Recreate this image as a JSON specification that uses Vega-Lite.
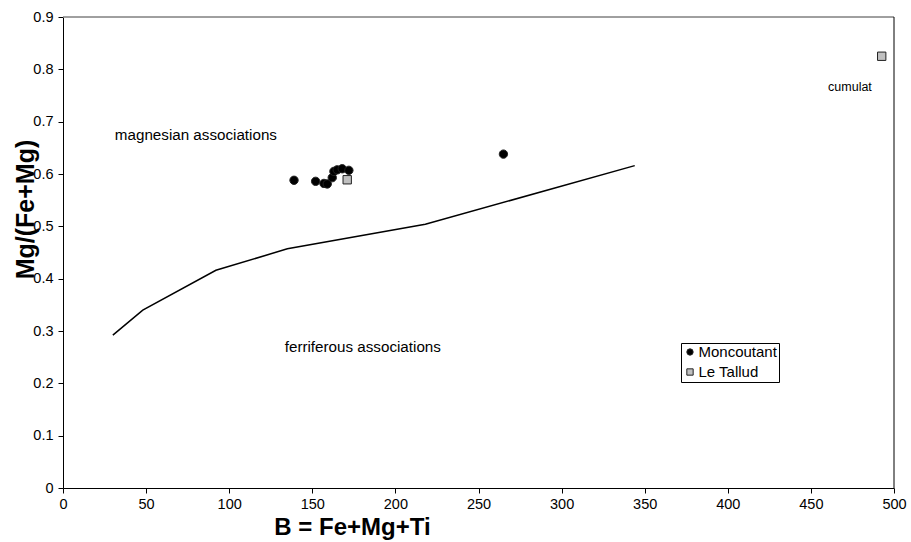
{
  "$schema": "https://vega.github.io/schema/vega-lite/v6.json",
  "width": 831,
  "height": 471,
  "autosize": {"type": "none"},
  "padding": {"left": 63, "top": 17, "right": 17, "bottom": 54},
  "background": "white",
  "config": {
    "font": "Liberation Sans",
    "view": {"stroke": null},
    "axis": {"grid": false, "labelFont": "Liberation Sans", "titleFont": "Liberation Sans", "labelColor": "black", "titleColor": "black", "domainColor": "black", "tickColor": "black"}
  },
  "datasets": {
    "pts": [
      {"x": 139, "y": 0.588, "site": "Moncoutant"},
      {"x": 152, "y": 0.586, "site": "Moncoutant"},
      {"x": 157, "y": 0.582, "site": "Moncoutant"},
      {"x": 159, "y": 0.581, "site": "Moncoutant"},
      {"x": 162, "y": 0.593, "site": "Moncoutant"},
      {"x": 163, "y": 0.605, "site": "Moncoutant"},
      {"x": 165, "y": 0.608, "site": "Moncoutant"},
      {"x": 168, "y": 0.610, "site": "Moncoutant"},
      {"x": 172, "y": 0.607, "site": "Moncoutant"},
      {"x": 265, "y": 0.638, "site": "Moncoutant"},
      {"x": 171, "y": 0.589, "site": "Le Tallud"},
      {"x": 492.6, "y": 0.825, "site": "Le Tallud"}
    ],
    "line": [
      {"x": 30, "y": 0.292},
      {"x": 48, "y": 0.34},
      {"x": 92, "y": 0.416},
      {"x": 135, "y": 0.457},
      {"x": 218, "y": 0.504},
      {"x": 344, "y": 0.616}
    ],
    "labels": [
      {"x": 31.2, "y": 0.674, "text": "magnesian associations"},
      {"x": 133.4, "y": 0.270, "text": "ferriferous associations"}
    ],
    "cumulat": [
      {"x": 473.5, "y": 0.766, "text": "cumulat"}
    ]
  },
  "layer": [
    {
      "data": {"name": "line"},
      "mark": {"type": "line", "color": "black", "strokeWidth": 1.5},
      "encoding": {
        "x": {
          "field": "x", "type": "quantitative",
          "scale": {"domain": [0, 500], "nice": false},
          "axis": {"values": [0,50,100,150,200,250,300,350,400,450,500], "title": "B = Fe+Mg+Ti", "titleFontSize": 24, "titleFontWeight": "bold", "labelFontSize": 14.5, "tickSize": 5, "labelPadding": 4, "titleX": 289, "titleY": 39, "titleBaseline": "middle", "titleAlign": "center", "labelFlush": false}
        },
        "y": {
          "field": "y", "type": "quantitative",
          "scale": {"domain": [0, 0.9], "nice": false},
          "axis": {"values": [0,0.1,0.2,0.3,0.4,0.5,0.6,0.7,0.8,0.9], "format": ".1~f", "title": "Mg/(Fe+Mg)", "titleFontSize": 25, "titleFontWeight": "bold", "labelFontSize": 14.5, "tickSize": 5, "labelPadding": 5, "titleX": -38, "titleY": 192, "titleAngle": -90, "titleAlign": "center", "titleBaseline": "middle", "labelFlush": false}
        }
      }
    },
    {
      "data": {"values": [{"x": 0}, {"x": 500}]},
      "mark": {"type": "rule", "color": "#808080", "strokeWidth": 1},
      "encoding": {"y": {"datum": 0.9, "type": "quantitative"}}
    },
    {
      "data": {"values": [{"a": 1}]},
      "mark": {"type": "rule", "color": "black", "strokeWidth": 1},
      "encoding": {"x": {"datum": 500, "type": "quantitative"}}
    },
    {
      "data": {"name": "pts"},
      "mark": {"type": "point", "filled": true, "opacity": 1, "size": 70, "stroke": "#222", "strokeWidth": 1},
      "encoding": {
        "x": {"field": "x", "type": "quantitative"},
        "y": {"field": "y", "type": "quantitative"},
        "color": {"field": "site", "type": "nominal", "scale": {"domain": ["Moncoutant", "Le Tallud"], "range": ["black", "#c0c0c0"]},
          "legend": {"title": null, "orient": "none", "legendX": 618, "legendY": 326, "strokeColor": "black", "fillColor": "white", "padding": 1.5, "labelFontSize": 15, "labelColor": "black", "symbolSize": 40, "symbolStrokeColor": "#222", "symbolStrokeWidth": 1, "rowPadding": 4, "labelOffset": 1}},
        "shape": {"field": "site", "type": "nominal", "scale": {"domain": ["Moncoutant", "Le Tallud"], "range": ["circle", "square"]}, "legend": null}
      }
    },
    {
      "data": {"name": "labels"},
      "mark": {"type": "text", "align": "left", "baseline": "middle", "fontSize": 15.2, "color": "black"},
      "encoding": {
        "x": {"field": "x", "type": "quantitative"},
        "y": {"field": "y", "type": "quantitative"},
        "text": {"field": "text"}
      }
    },
    {
      "data": {"name": "cumulat"},
      "mark": {"type": "text", "align": "center", "baseline": "middle", "fontSize": 12.5, "color": "black"},
      "encoding": {
        "x": {"field": "x", "type": "quantitative"},
        "y": {"field": "y", "type": "quantitative"},
        "text": {"field": "text"}
      }
    }
  ]
}
